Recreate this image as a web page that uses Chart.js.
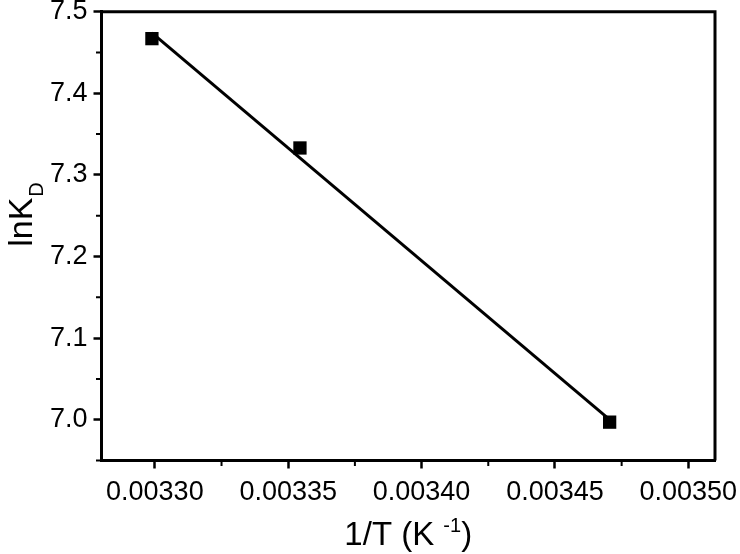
<!DOCTYPE html>
<html>
<head>
<meta charset="utf-8">
<script src="https://cdn.jsdelivr.net/npm/chart.js@4.4.1/dist/chart.umd.min.js"></script>
<style>
  html, body { margin: 0; padding: 0; background: #fff; }
  #wrap { width: 740px; height: 554px; position: relative; }
</style>
</head>
<body>
<div id="wrap"><canvas id="c" width="740" height="554"></canvas></div>
<script>
// ---- data ----
const xVals = [0.0032989, 0.0033544, 0.0034705];   // 1/T (K^-1)
const yVals = [7.467, 7.333, 6.997];               // lnK_D
const fitX = [0.0032989, 0.0034705];               // linear fit line ends
const fitY = [7.474, 7.000];
const xTicks = [0.00330, 0.00335, 0.00340, 0.00345, 0.00350];
const yTicks = [7.0, 7.1, 7.2, 7.3, 7.4, 7.5];
const xMinor = [0.003325, 0.003375, 0.003425, 0.003475];
const yMinor = [6.95, 7.05, 7.15, 7.25, 7.35, 7.45];
const xTitleMain = '1/T (K ';
const xTitleSup = '-1';
const xTitleEnd = ')';
const yTitleMain = 'lnK';
const yTitleSub = 'D';

const FONT = '"Liberation Sans", Arial, Helvetica, sans-serif';

const decor = {
  id: 'decor',
  afterDraw(chart) {
    const ctx = chart.ctx;
    const a = chart.chartArea;
    const xs = chart.scales.x, ys = chart.scales.y;
    ctx.save();
    ctx.strokeStyle = '#000';
    // top and right frame
    ctx.lineWidth = 3;
    ctx.beginPath();
    ctx.moveTo(a.left, a.top);
    ctx.lineTo(a.right, a.top);
    ctx.lineTo(a.right, a.bottom);
    ctx.stroke();
    // minor ticks
    ctx.lineWidth = 2;
    ctx.beginPath();
    xMinor.forEach(v => {
      const px = xs.getPixelForValue(v);
      ctx.moveTo(px, a.bottom);
      ctx.lineTo(px, a.bottom + 5.5);
    });
    yMinor.forEach(v => {
      const py = ys.getPixelForValue(v);
      ctx.moveTo(a.left, py);
      ctx.lineTo(a.left - 5.5, py);
    });
    ctx.stroke();
    // x title with superscript
    ctx.fillStyle = '#000';
    ctx.textBaseline = 'alphabetic';
    ctx.textAlign = 'left';
    const mainF = '33px ' + FONT, supF = '20px ' + FONT;
    ctx.font = mainF; const w1 = ctx.measureText(xTitleMain).width;
    ctx.font = supF; const w2 = ctx.measureText(xTitleSup).width;
    ctx.font = mainF; const w3 = ctx.measureText(xTitleEnd).width;
    const cx = (a.left + a.right) / 2;
    let x0 = cx - (w1 + w2 + w3) / 2;
    const by = 545;
    ctx.font = mainF; ctx.fillText(xTitleMain, x0, by);
    ctx.font = supF; ctx.fillText(xTitleSup, x0 + w1, by - 13);
    ctx.font = mainF; ctx.fillText(xTitleEnd, x0 + w1 + w2, by);
    // y title with subscript
    const yMainF = '34px ' + FONT, ySubF = '20px ' + FONT;
    ctx.font = yMainF; const v1 = ctx.measureText(yTitleMain).width;
    ctx.font = ySubF; const v2 = ctx.measureText(yTitleSub).width;
    ctx.translate(32, 215);
    ctx.rotate(-Math.PI / 2);
    const s0 = -(v1 + v2) / 2;
    ctx.font = yMainF; ctx.fillText(yTitleMain, s0, 0);
    ctx.font = ySubF; ctx.fillText(yTitleSub, s0 + v1 + 1, 11);
    ctx.restore();
  }
};

new Chart(document.getElementById('c'), {
  type: 'scatter',
  data: {
    datasets: [
      {
        type: 'line',
        data: fitX.map((x, i) => ({ x: x, y: fitY[i] })),
        borderColor: '#000',
        borderWidth: 3,
        pointRadius: 0,
        fill: false,
        tension: 0,
        order: 2
      },
      {
        data: xVals.map((x, i) => ({ x: x, y: yVals[i] })),
        pointStyle: 'rect',
        pointRadius: 9.4,
        pointHoverRadius: 9.4,
        backgroundColor: '#000',
        borderColor: '#000',
        borderWidth: 0,
        order: 1
      }
    ]
  },
  options: {
    responsive: false,
    animation: false,
    devicePixelRatio: 1,
    clip: false,
    layout: { padding: { left: 0, top: 11.7, right: 25, bottom: 0 } },
    plugins: { legend: { display: false }, tooltip: { enabled: false } },
    scales: {
      x: {
        type: 'linear',
        position: 'bottom',
        min: 0.00328,
        max: 0.00351,
        afterBuildTicks: s => { s.ticks = xTicks.map(v => ({ value: v })); },
        afterFit: s => { s.height = 93.5; s.paddingLeft = 0; s.paddingRight = 0; },
        ticks: {
          callback: v => Number(v).toFixed(5),
          color: '#000',
          font: { family: FONT, size: 27 },
          padding: 8,
          maxRotation: 0,
          autoSkip: false
        },
        grid: { drawOnChartArea: false, drawTicks: true, tickLength: 8, tickWidth: 2.5, tickColor: '#000' },
        border: { display: true, color: '#000', width: 3 }
      },
      y: {
        type: 'linear',
        position: 'left',
        min: 6.95,
        max: 7.5,
        afterBuildTicks: s => { s.ticks = yTicks.map(v => ({ value: v })); },
        afterFit: s => { s.width = 101.5; s.paddingTop = 0; s.paddingBottom = 0; },
        ticks: {
          callback: v => Number(v).toFixed(1),
          color: '#000',
          font: { family: FONT, size: 27 },
          padding: 6,
          autoSkip: false
        },
        grid: { drawOnChartArea: false, drawTicks: true, tickLength: 8, tickWidth: 2.5, tickColor: '#000' },
        border: { display: true, color: '#000', width: 3 }
      }
    }
  },
  plugins: [decor]
});
</script>
</body>
</html>
